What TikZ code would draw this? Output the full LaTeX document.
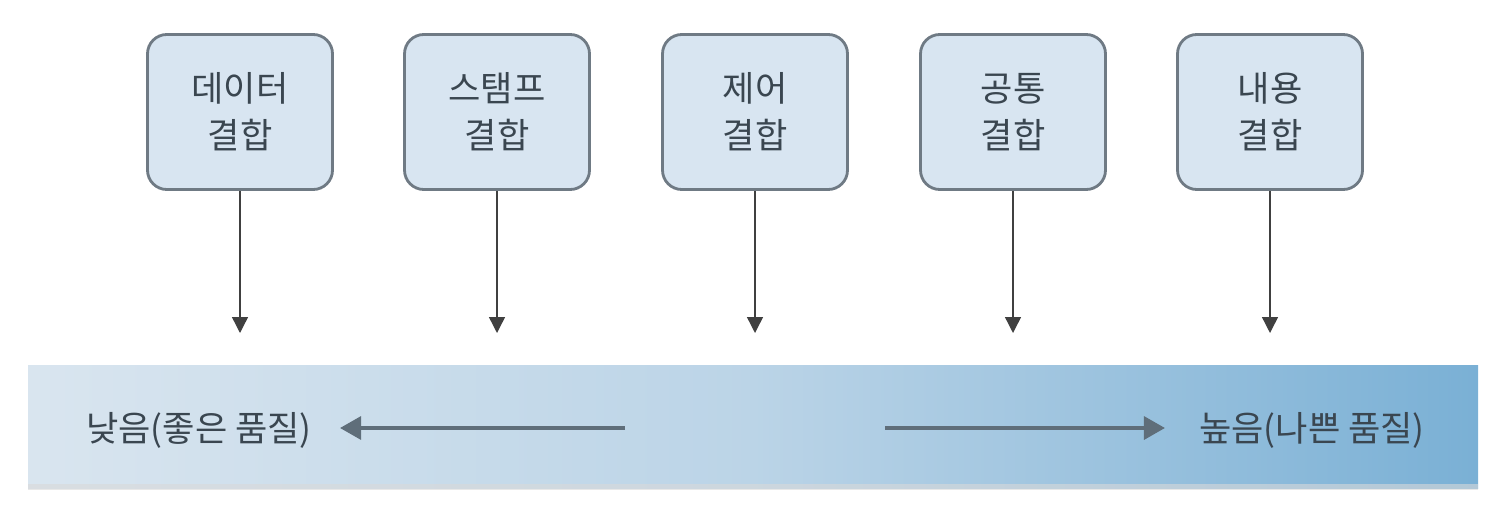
\documentclass[tikz,border=0pt]{standalone}
\usepackage{fontspec}
\newfontfamily\kr{Noto Sans CJK KR}
\usetikzlibrary{arrows.meta}
\definecolor{boxfill}{HTML}{D8E5F1}
\definecolor{boxline}{HTML}{6F7A84}
\definecolor{txt}{HTML}{3A4650}
\definecolor{barL}{HTML}{D9E5EF}
\definecolor{barM}{HTML}{BBD4E7}
\definecolor{barR}{HTML}{7AB0D5}
\definecolor{arr}{HTML}{5F6E7A}
\tikzset{
  cbox/.style={draw=boxline, line width=1.6pt, fill=boxfill, rounded corners=11pt,
    minimum width=185*0.02cm, minimum height=155*0.02cm, align=center,
    font=\kr\fontsize{20}{26.6}\selectfont, text=txt, inner sep=0pt},
  down/.style={draw=black!75, line width=0.8pt, -{Triangle[length=9pt,width=9pt]}},
  side/.style={draw=arr, line width=2.2pt, -{Triangle[length=12pt,width=13pt]}},
  lbl/.style={font=\kr\fontsize{20}{24}\selectfont, text=txt, inner sep=0pt}
}
\begin{document}
\begin{tikzpicture}[x=0.02cm,y=-0.02cm]
\useasboundingbox (0,0) rectangle (1500,510);
\shade[left color=barL, right color=barM] (28,365) rectangle (753,488);
\shade[left color=barM, right color=barR] (752,365) rectangle (1478,488);
\fill[black!15, opacity=0.6] (28,484) rectangle (1478,490);
\node[cbox] (b1) at (240,112) {데이터\\결합};
\node[cbox] (b2) at (497,112) {스탬프\\결합};
\node[cbox] (b3) at (755,112) {제어\\결합};
\node[cbox] (b4) at (1013,112) {공통\\결합};
\node[cbox] (b5) at (1270,112) {내용\\결합};
\coordinate (e1) at (240,333);
\coordinate (e2) at (497,333);
\coordinate (e3) at (755,333);
\coordinate (e4) at (1013,333);
\coordinate (e5) at (1270,333);
\foreach \i in {1,...,5} \draw[down] (b\i.south) -- (e\i);
\node[lbl] (lo) at (199,430) {낮음(좋은 품질)};
\node[lbl] (hi) at (1312,430) {높음(나쁜 품질)};
\coordinate (ls) at (625,428);
\coordinate (le) at (340,428);
\coordinate (rs) at (885,428);
\coordinate (re) at (1165,428);
\draw[side] (ls) -- (le);
\draw[side] (rs) -- (re);
\end{tikzpicture}
\end{document}
